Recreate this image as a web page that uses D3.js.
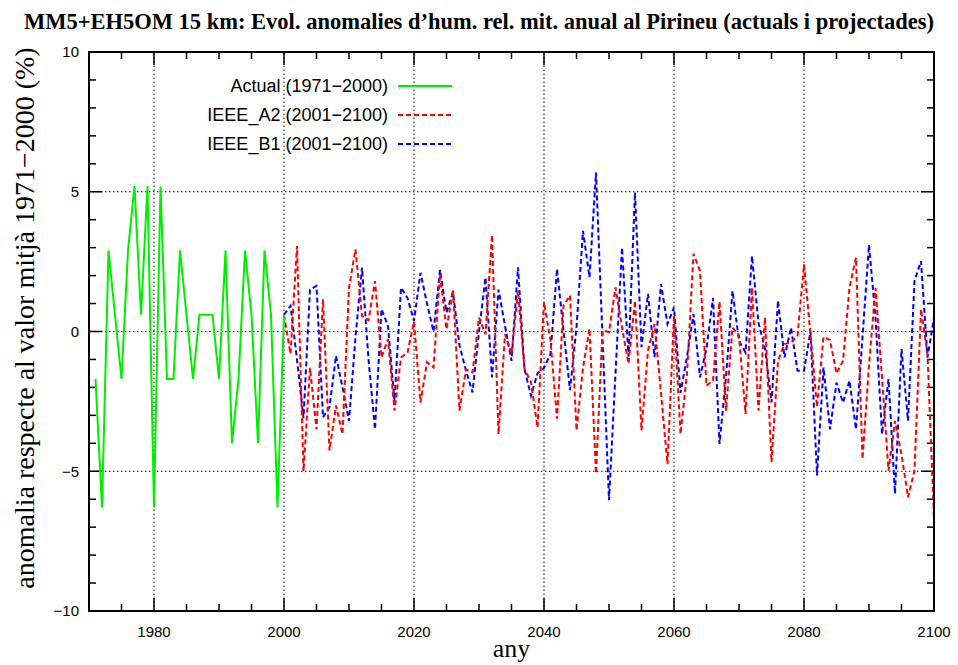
<!DOCTYPE html>
<html>
<head>
<meta charset="utf-8">
<script src="https://cdn.jsdelivr.net/npm/d3@7"></script>
<style>
  body { margin: 0; background: #fff; }
  svg { display: block; }
  .tick-label { font-family: "Liberation Sans", Arial, sans-serif; font-size: 15px; fill: #000; }
  .legend-label { font-family: "Liberation Sans", Arial, sans-serif; font-size: 18px; fill: #000; }
  .title, .axis-title { font-family: "Liberation Serif", "Times New Roman", serif; fill: #000; }
</style>
</head>
<body>
<div id="chart"></div>
<script>
const title = "MM5+EH5OM 15 km: Evol. anomalies d\u2019hum. rel. mit. anual al Pirineu (actuals i projectades)";
const yTitle = "anomalia respecte al valor mitj\u00e0 1971\u22122000 (%)";
const xTitle = "any";

const actualYears = d3.range(1971, 2001);
const actualValues = [-1.7, -6.3, 2.9, 0.6, -1.7, 2.9, 5.2, 0.6, 5.2, -6.3,
  5.2, -1.7, -1.7, 2.9, 0.6, -1.7, 0.6, 0.6, 0.6, -1.7,
  2.9, -4.0, -1.7, 2.9, 0.6, -4.0, 2.9, 0.6, -6.3, 0.6];

const scenarioYears = d3.range(2000, 2101);
const a2Values = [0.6,
  -0.8, 3.06, -5.0, -1.3, -3.5, 1.15, -4.26, -2.65, -3.67, 1.57,
  2.94, 0.56, 0.4, 1.8, -0.93, -0.27, -2.83, -0.93, -0.75, 0.35,
  -2.54, -1.1, -1.29, 2.05, 0.08, 1.5, -2.83, -1.35, -1.46, 0.5,
  -0.1, 3.45, -3.67, -0.1, -0.8, 1.45, -1.35, -1.8, -3.43, 1.05,
  -0.32, -3.12, 0.93, 1.29, -3.54, -1.3, 0.1, -5.08, 0.04, -0.02,
  1.58, 0.15, -1.15, 1.1, -3.54, -0.68, 0.27, -2.2, -4.75, 0.6,
  -3.67, -1.5, 2.78, 2.17, -1.94, -1.76, 1.07, -2.83, 0.14, -0.15,
  -2.95, 1.57, -2.83, 0.5, -4.68, -1.05, -0.45, -0.4, -0.15, 2.4,
  -0.1, -2.7, -0.2, -0.3, -1.5, -1.05, 1.57, 2.64, -4.56, -1.2,
  1.56, -1.64, -4.98, -3.2, -4.4, -5.93, -4.98, 0.8, -0.8, -6.7];
const b1Values = [0.6,
  0.92, -1.0, -3.1, 1.5, 1.63, -3.07, -2.7, -0.87, -2.0, -3.2,
  -0.2, 2.29, -1.0, -3.5, 0.8, 0.2, -2.5, 1.57, 1.2, 0.38,
  2.1, 1.0, 0.0, 2.2, 0.68, 1.4, -0.5, -1.4, -2.18, 0.0,
  1.93, -1.64, 1.5, 0.2, -1.05, 2.3, -1.35, -2.3, -1.5, -1.3,
  -0.8, 2.24, 0.04, -2.1, 0.15, 3.6, 1.94, 5.69, -0.2, -6.04,
  -1.5, 3.0, -0.9, 4.98, -0.56, 1.35, -0.92, 1.7, 0.27, 0.86,
  -2.2, -0.9, 0.62, -1.64, -0.6, 1.2, -4.02, -1.64, 1.45, -0.33,
  -0.75, 2.7, 0.3, -0.6, -2.54, 1.1, -0.93, 0.14, -1.4, -1.4,
  0.0, -5.15, -1.29, -3.5, -1.83, -2.54, -1.76, -3.5, -0.2, 3.1,
  0.5, -3.67, -1.7, -5.8, -0.63, -3.19, 1.81, 2.52, -0.93, 0.5];

const xTicks = [1980, 2000, 2020, 2040, 2060, 2080, 2100];
const yTicks = [-10, -5, 0, 5, 10];

const series = [
  {name: "Actual (1971\u22122000)", years: actualYears, values: actualValues, color: "#00ee00", dash: null},
  {name: "IEEE_A2 (2001\u22122100)", years: scenarioYears, values: a2Values, color: "#ff0000", dash: "5,3"},
  {name: "IEEE_B1 (2001\u22122100)", years: scenarioYears, values: b1Values, color: "#0000ff", dash: "5,3"}
];

const width = 958;
const height = 665;
const margin = {top: 52, right: 24, bottom: 54, left: 89};

const svg = d3.select("#chart").append("svg")
  .attr("width", width)
  .attr("height", height);

const x = d3.scaleLinear().domain([1970, 2100]).range([margin.left, width - margin.right]);
const y = d3.scaleLinear().domain([-10, 10]).range([height - margin.bottom, margin.top]);

// grid
const grid = svg.append("g").attr("stroke", "#000").attr("stroke-width", 1).attr("stroke-dasharray", "1.5,2.5");
grid.selectAll("line.gx").data(xTicks.filter(d => d > 1970 && d < 2100)).join("line")
  .attr("x1", d => x(d)).attr("x2", d => x(d))
  .attr("y1", y(-10)).attr("y2", y(10));
grid.selectAll("line.gy").data(yTicks.filter(d => d > -10 && d < 10)).join("line")
  .attr("x1", x(1970)).attr("x2", x(2100))
  .attr("y1", d => y(d)).attr("y2", d => y(d));

// ticks (all four sides, gnuplot style)
const ticks = svg.append("g").attr("stroke", "#000").attr("stroke-width", 1.5);
const majorLen = 13, minorLen = 7;
const yMinor = d3.range(-10, 11, 1);
yMinor.forEach(v => {
  const len = v % 5 === 0 ? majorLen : minorLen;
  ticks.append("line").attr("x1", x(1970)).attr("x2", x(1970) + len).attr("y1", y(v)).attr("y2", y(v));
  ticks.append("line").attr("x1", x(2100)).attr("x2", x(2100) - len).attr("y1", y(v)).attr("y2", y(v));
});
const xMinor = d3.range(1970, 2101, 5);
xMinor.forEach(v => {
  const len = v % 20 === 0 ? majorLen : minorLen;
  ticks.append("line").attr("x1", x(v)).attr("x2", x(v)).attr("y1", y(-10)).attr("y2", y(-10) - len);
  ticks.append("line").attr("x1", x(v)).attr("x2", x(v)).attr("y1", y(10)).attr("y2", y(10) + len);
});

// tick labels
svg.append("g").selectAll("text").data(yTicks).join("text")
  .attr("class", "tick-label")
  .attr("x", x(1970) - 10)
  .attr("y", d => y(d))
  .attr("dy", "0.35em")
  .attr("text-anchor", "end")
  .text(d => d < 0 ? "\u2212" + Math.abs(d) : d);
svg.append("g").selectAll("text").data(xTicks).join("text")
  .attr("class", "tick-label")
  .attr("x", d => x(d))
  .attr("y", y(-10) + 26)
  .attr("text-anchor", "middle")
  .text(d => d);

// lines
const line = d3.line().x(d => x(d[0])).y(d => y(d[1]));
const plot = svg.append("g");
series.slice().reverse().forEach(s => {
  plot.append("path")
    .datum(s.years.map((yr, i) => [yr, s.values[i]]))
    .attr("fill", "none")
    .attr("stroke", s.color)
    .attr("stroke-width", 2)
    .attr("stroke-dasharray", s.dash)
    .attr("stroke-linejoin", "miter")
    .attr("d", line);
});

// frame
svg.append("rect")
  .attr("x", x(1970)).attr("y", y(10))
  .attr("width", x(2100) - x(1970)).attr("height", y(-10) - y(10))
  .attr("fill", "none").attr("stroke", "#000").attr("stroke-width", 2);

// legend
const legend = svg.append("g");
series.forEach((s, i) => {
  const ly = 86 + i * 29;
  legend.append("text").attr("class", "legend-label")
    .attr("x", 388).attr("y", ly).attr("dy", "0.35em")
    .attr("text-anchor", "end").text(s.name);
  legend.append("line")
    .attr("x1", 398).attr("x2", 452).attr("y1", ly).attr("y2", ly)
    .attr("stroke", s.color).attr("stroke-width", 2)
    .attr("stroke-dasharray", s.dash);
});

// titles
svg.append("text").attr("class", "title")
  .attr("x", 479).attr("y", 29)
  .attr("text-anchor", "middle")
  .attr("font-size", 22.5)
  .attr("font-weight", "bold")
  .text(title);
svg.append("text").attr("class", "axis-title")
  .attr("transform", `translate(34,318) rotate(-90)`)
  .attr("text-anchor", "middle")
  .attr("font-size", 28)
  .text(yTitle);
svg.append("text").attr("class", "axis-title")
  .attr("x", x(2035)).attr("y", 657)
  .attr("text-anchor", "middle")
  .attr("font-size", 26)
  .text(xTitle);
</script>
</body>
</html>
